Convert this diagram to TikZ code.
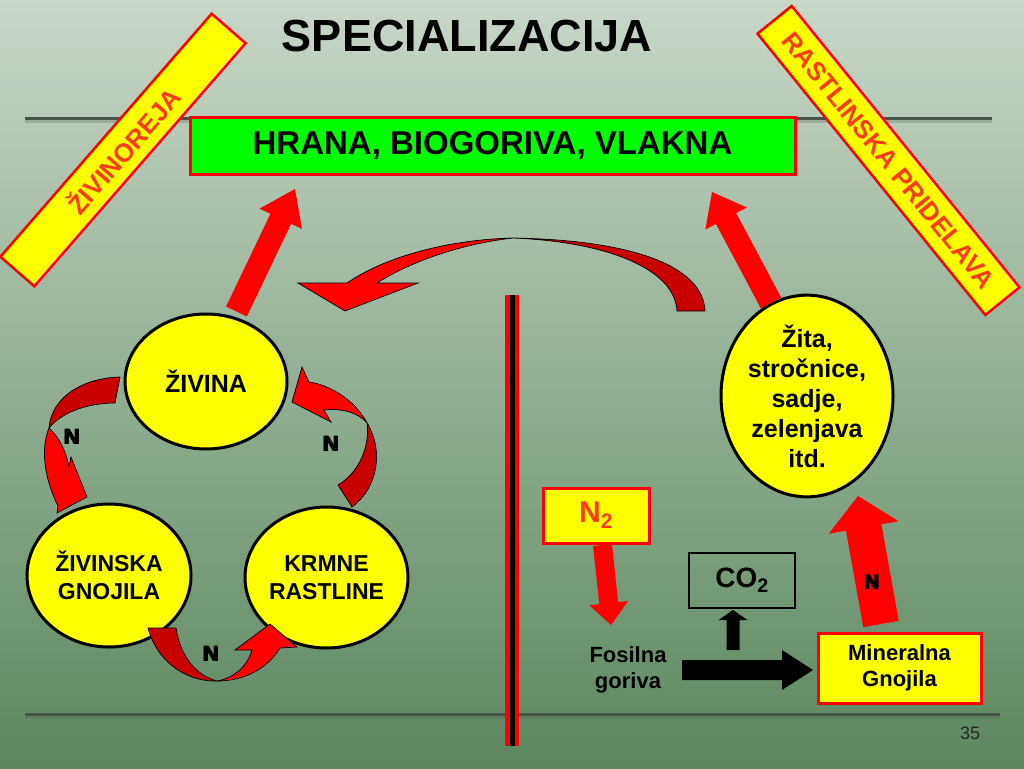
\documentclass[tikz,border=0pt]{standalone}
\usepackage{fontspec}
\setmainfont{Liberation Sans}
\usetikzlibrary{shapes.geometric, calc, positioning}

\definecolor{yellowfill}{RGB}{255,255,0}
\definecolor{greenfill}{RGB}{0,255,0}
\definecolor{labelred}{RGB}{250,60,20}
\definecolor{ribbondark}{RGB}{200,0,0}
\definecolor{linegray}{RGB}{72,84,72}
\definecolor{bgtop}{RGB}{200,215,200}
\definecolor{bgmid}{RGB}{150,180,150}
\definecolor{bgbot}{RGB}{92,135,95}

% block arrow: style, start, tip, half shaft, half head, head length
\newcommand{\blockarrow}[6]{%
  \coordinate (ba-base) at ($(#3)!#6!(#2)$);
  \fill[#1] ($(#2)!#4!90:(#3)$) -- ($(ba-base)!#4!90:(#3)$)
    -- ($(ba-base)!#5!90:(#3)$) -- (#3)
    -- ($(ba-base)!#5!-90:(#3)$) -- ($(ba-base)!#4!-90:(#3)$)
    -- ($(#2)!#4!-90:(#3)$) -- cycle;
}

% heavy letter, set four times
\newcommand{\fatletter}[1]{\rlap{#1}\rlap{\raisebox{0.7pt}{#1}}\hspace{1.3pt}\rlap{#1}\raisebox{0.7pt}{#1}}

\tikzset{
  yellowbox/.style={draw=red, fill=yellowfill, line width=3pt, inner sep=0pt, align=center},
  slantbox/.style={draw=red, fill=yellowfill, line width=2.5pt, inner sep=0pt,
    text=labelred, font=\bfseries\fontsize{26}{30}\selectfont},
  circ/.style={ellipse, draw, line width=3pt, fill=yellowfill, inner sep=0pt, align=center,
    font=\bfseries\fontsize{23}{27.6}\selectfont},
  nlabel/.style={font=\bfseries\fontsize{22}{26}\selectfont},
  ribbon/.style={draw=black, line width=0.7pt, fill=red},
  ribbonback/.style={draw=black, line width=0.7pt, fill=ribbondark},
}

\begin{document}
\begin{tikzpicture}[x=1pt, y=-1pt]

  % background
  \shade[top color=bgtop, middle color=bgmid, bottom color=bgbot] (0,0) rectangle (1024,768);
  \useasboundingbox (0,0) rectangle (1024,768);

  % rules
  \draw[linegray, line width=4pt, opacity=0.25] (25,121) -- (992,121);
  \draw[linegray, line width=3pt] (25,118) -- (992,118);
  \draw[linegray, line width=4pt, opacity=0.25] (25,717) -- (1000,717);
  \draw[linegray, line width=3pt] (25,714) -- (1000,714);

  % title and banners
  \node[font=\bfseries\fontsize{45}{54}\selectfont, anchor=base] (title) at (467,52) {SPECIALIZACIJA};
  \node[slantbox, minimum width=322pt, minimum height=45pt, rotate=49] (zivinoreja) at (123,150) {ŽIVINOREJA};
  \node[slantbox, minimum width=362pt, minimum height=44pt, rotate=-51] (rastlinska) at (888.5,160.5) {RASTLINSKA PRIDELAVA};
  \node[draw=red, fill=greenfill, line width=3pt, minimum width=605pt, minimum height=57pt,
    font=\bfseries\fontsize{33}{40}\selectfont] (hrana) at (492.5,145.5) {HRANA, BIOGORIVA, VLAKNA};

  % divider
  \draw[red, line width=14pt] (512,295) -- (512,746);
  \draw[black, line width=5pt] (512,295) -- (512,746);

  % livestock cycle
  \node[circ, minimum width=162pt, minimum height=135pt, font=\bfseries\fontsize{25}{30}\selectfont]
    (zivina) at (206,381.5) {ŽIVINA};
  \node[circ, minimum width=164pt, minimum height=143pt] (gnoj) at (109,575.5) {ŽIVINSKA\\GNOJILA};
  \node[circ, minimum width=163pt, minimum height=141pt] (krm) at (326.5,577.5) {KRMNE\\RASTLINE};

  % crop side
  \node[circ, minimum width=172pt, minimum height=182pt, font=\bfseries\fontsize{25}{30}\selectfont]
    (zita) at (807,396) {Žita,\\stročnice,\\sadje,\\zelenjava\\itd.};
  \node[yellowbox, minimum width=106pt, minimum height=55pt, text=labelred,
    font=\bfseries\fontsize{30}{36}\selectfont] (ntwo) at (596,515.5) {N\textsubscript{2}};
  \node[draw=black, line width=2pt, minimum width=106pt, minimum height=55pt, inner sep=0pt,
    font=\bfseries\fontsize{28}{34}\selectfont] (co) at (742,580.5) {CO\textsubscript{2}};
  \node[align=center, font=\bfseries\fontsize{22}{26}\selectfont] (fosil) at (628,670) {Fosilna\\goriva};
  \node[yellowbox, minimum width=163pt, minimum height=70pt,
    font=\bfseries\fontsize{22}{26}\selectfont] (mineral) at (899.5,668) {Mineralna\\Gnojila};

  % arrow ends
  \coordinate (zivina-up) at (236.5,311.5);
  \coordinate (hrana-l) at (295,189);
  \coordinate (zita-up) at (771,303);
  \coordinate (hrana-r) at (712,192);
  \coordinate (ntwo-out) at (602.5,545);
  \coordinate (fosil-in) at (611,625);
  \coordinate (fosil-out) at (682,670);
  \coordinate (mineral-in) at (813,670);
  \coordinate (co-from) at (733,650);
  \coordinate (co-in) at (733,610);
  \coordinate (mineral-up) at (881,624);
  \coordinate (zita-in) at (858,496);

  % straight arrows
  \blockarrow{red}{zivina-up}{hrana-l}{11.5pt}{23.5pt}{33pt}
  \blockarrow{red}{zita-up}{hrana-r}{11.5pt}{23.5pt}{30pt}
  \blockarrow{red}{ntwo-out}{fosil-in}{9.5pt}{19.5pt}{22pt}
  \blockarrow{red}{mineral-up}{zita-in}{18pt}{35.5pt}{32pt}
  \blockarrow{black}{fosil-out}{mineral-in}{10pt}{20pt}{31pt}
  \blockarrow{black}{co-from}{co-in}{6.5pt}{14.5pt}{10pt}

  % transfer arrow over the divider
  \filldraw[ribbonback] (677,311) -- (705,311) .. controls (703,265) and (630,240) .. (513,238)
    .. controls (610,242) and (675,270) .. (677,311) -- cycle;
  \filldraw[ribbon] (513,238) .. controls (440,240) and (380,260) .. (347,283)
    -- (298,283) -- (345,311) -- (418,283) -- (377,283)
    .. controls (410,262) and (460,244) .. (513,238) -- cycle;

  % cycle arrows
  \filldraw[ribbonback] (120,377) .. controls (85,378) and (52,395) .. (49,428)
    .. controls (62,412) and (88,403) .. (115,403) -- cycle;
  \filldraw[ribbon] (49,428) .. controls (40,450) and (45,480) .. (58,506)
    -- (57,513) -- (87,497) -- (71,457) -- (69,467)
    .. controls (66,450) and (58,436) .. (49,428) -- cycle;

  \filldraw[ribbonback] (338,485) -- (352,507) .. controls (378,488) and (384,450) .. (367,423)
    .. controls (370,445) and (360,472) .. (338,485) -- cycle;
  \filldraw[ribbon] (367,423) .. controls (355,400) and (330,385) .. (309,382)
    -- (302,367) -- (292,402) -- (331,422) -- (324,410)
    .. controls (340,408) and (358,412) .. (367,423) -- cycle;

  \filldraw[ribbonback] (148,628) -- (176,628) .. controls (180,655) and (195,675) .. (217,681)
    .. controls (190,682) and (158,665) .. (148,628) -- cycle;
  \filldraw[ribbon] (217,681) .. controls (235,678) and (248,665) .. (252,650)
    -- (235,650) -- (270,624) -- (297,647) -- (280,648)
    .. controls (268,668) and (245,681) .. (217,681) -- cycle;

  % nitrogen labels
  \node[nlabel] (n-left) at (72,437) {\fatletter{N}};
  \node[nlabel] (n-right) at (331,444) {\fatletter{N}};
  \node[nlabel] (n-bottom) at (211,654) {\fatletter{N}};
  \node[nlabel, font=\bfseries\fontsize{20}{24}\selectfont] (n-mineral) at (872,582) {\fatletter{N}};

  % page number
  \node[font=\fontsize{18}{22}\selectfont, text=black!85] (page) at (970,733) {35};

\end{tikzpicture}
\end{document}
